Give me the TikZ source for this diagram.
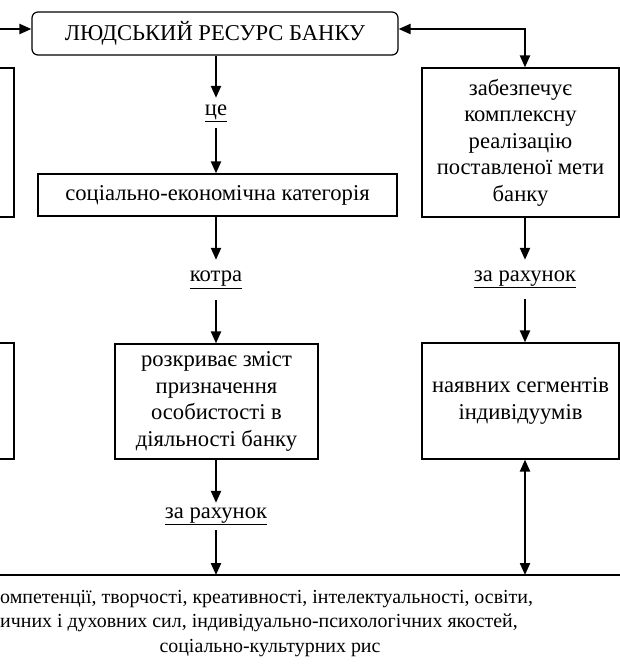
\documentclass[tikz,border=0pt]{standalone}
\usepackage{fontspec}
\setmainfont{Liberation Serif}
\usetikzlibrary{arrows.meta}
\begin{document}
\begin{tikzpicture}[x=1pt,y=-1pt,
  box/.style={draw,line width=1.2pt,inner sep=0pt,font=\fontsize{22.6}{26.5}\selectfont,align=center},
  lbl/.style={inner sep=0pt,font=\fontsize{22.6}{26.5}\selectfont},
  btxt/.style={inner sep=0pt,font=\fontsize{19.9}{24}\selectfont},
  arr/.style={line width=2.2pt,-{Triangle[length=12pt,width=10pt]}},
  darr/.style={line width=2.2pt,{Triangle[length=12pt,width=10pt]}-{Triangle[length=12pt,width=10pt]}}]
\useasboundingbox (0,0) rectangle (620,669);
\clip (0,0) rectangle (620,669);
% top box
\node[box,rounded corners=6pt,minimum width=366pt,minimum height=43pt] (top) at (215,33.5) {ЛЮДСЬКИЙ РЕСУРС БАНКУ};
% centre column
\node[lbl,minimum height=30pt] (ce) at (216,113) {\underline{це}};
\node[box,minimum width=359pt,minimum height=42pt] (cat) at (217.5,195) {соціально-економічна категорія};
\node[lbl,minimum height=40pt] (kotra) at (216,280) {\underline{котра}};
\node[box,minimum width=203pt,minimum height=115pt] (rozk) at (216.5,401.5) {розкриває зміст\\призначення\\особистості в\\діяльності банку};
\node[lbl,minimum height=27pt] (zr1) at (216,516.5) {\underline{за рахунок}};
% right column
\node[box,minimum width=197pt,minimum height=149pt] (rb1) at (520.5,142.5) {забезпечує\\комплексну\\реалізацію\\поставленої мети\\банку};
\node[lbl,minimum height=39pt] (zr2) at (525,279.5) {\underline{за рахунок}};
\node[box,minimum width=197pt,minimum height=116pt] (rb2) at (520.5,401) {наявних сегментів\\індивідуумів};
% left (cropped) boxes
\node[box,minimum width=80pt,minimum height=149pt] (lb1) at (-26,142.5) {};
\node[box,minimum width=80pt,minimum height=116pt] (lb2) at (-26,401) {};
% bottom line
\coordinate (bL) at (-5,575);
\coordinate (bR) at (625,575);
\draw[line width=1.2pt] (bL) -- (bR);
% bottom text
\node[btxt,anchor=base west] (t1) at (0,603) {омпетенції, творчості, креативності, інтелектуальності, освіти,};
\node[btxt,anchor=base west] (t2) at (0,627) {ичних і духовних сил, індивідуально-психологічних якостей,};
\node[btxt,anchor=base] (t3) at (270,652) {соціально-культурних рис};
% connectors
\coordinate (lin) at (-5,29);
\draw[arr] (lin) -- (lin -| top.west);
\draw[darr] ([yshift=4.5pt]top.east) -| (zr2.north |- rb1.north);
\draw[arr] (top.south -| ce) -- (ce.north);
\draw[arr] (ce.south) -- (ce.south |- cat.north);
\draw[arr] (kotra.north |- cat.south) -- (kotra.north);
\draw[arr] (kotra.south) -- (kotra.south |- rozk.north);
\draw[arr] (zr1.north |- rozk.south) -- (zr1.north);
\draw[arr] (zr1.south) -- (zr1.south |- bL);
\draw[arr] (zr2.north |- rb1.south) -- (zr2.north);
\draw[arr] (zr2.south) -- (zr2.south |- rb2.north);
\draw[darr] (zr2.south |- rb2.south) -- (zr2.south |- bL);
\end{tikzpicture}
\end{document}
